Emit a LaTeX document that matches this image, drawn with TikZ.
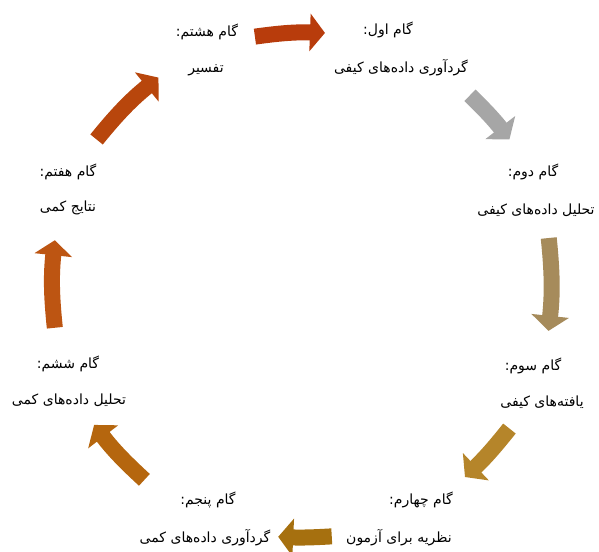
\documentclass[tikz,border=0pt]{standalone}
\usepackage{fontspec}
\usetikzlibrary{arrows.meta}
\newfontfamily\fa[Script=Arabic]{DejaVu Sans}
\TeXXeTstate=1
\definecolor{arrA}{HTML}{B83C0C}
\definecolor{arrB}{HTML}{A6A6A6}
\definecolor{arrC}{HTML}{A68B5B}
\definecolor{arrD}{HTML}{B5852A}
\definecolor{arrE}{HTML}{A6700F}
\definecolor{arrF}{HTML}{B5660E}
\definecolor{arrG}{HTML}{BD5512}
\definecolor{arrH}{HTML}{B8460C}
\tikzset{
  steplabel/.style={font={\fa\fontsize{14}{16}\selectfont}, inner sep=0pt},
  steptext/.style={font={\fa\fontsize{14}{16}\selectfont}, inner sep=0pt},
  blockarr/.style={line width=16pt, -{Triangle[width=37pt,length=15pt]}},
}

\begin{document}
\begin{tikzpicture}[x=1pt,y=1pt]
  \useasboundingbox (-303,-267) rectangle (296,284);
  % Steps
  \node[steplabel] (s1) at (85,254) {\beginR گام اول:\endR};
  \node[steptext] (d1) at (98,216) {\beginR گردآوری داده^^^^200cهای کیفی\endR};
  \node[steplabel] (s2) at (230,112) {\beginR گام دوم:\endR};
  \node[steptext] (d2) at (233,74) {\beginR تحلیل داده^^^^200cهای کیفی\endR};
  \node[steplabel] (s3) at (230,-82) {\beginR گام سوم:\endR};
  \node[steptext] (d3) at (239,-118) {\beginR یافته^^^^200cهای کیفی\endR};
  \node[steplabel] (s4) at (118,-216) {\beginR گام چهارم:\endR};
  \node[steptext] (d4) at (96,-254) {\beginR نظریه برای آزمون\endR};
  \node[steplabel] (s5) at (-95,-216) {\beginR گام پنجم:\endR};
  \node[steptext] (d5) at (-98,-254) {\beginR گردآوری داده^^^^200cهای کمی\endR};
  \node[steplabel] (s6) at (-235,-80) {\beginR گام ششم:\endR};
  \node[steptext] (d6) at (-234,-116) {\beginR تحلیل داده^^^^200cهای کمی\endR};
  \node[steplabel] (s7) at (-235,112) {\beginR گام هفتم:\endR};
  \node[steptext] (d7) at (-235,76) {\beginR نتایج کمی\endR};
  \node[steplabel] (s8) at (-96,252) {\beginR گام هشتم:\endR};
  \node[steptext] (d8) at (-97,214) {\beginR تفسیر\endR};

  % Arrow ends on the circle
  \coordinate (t1) at (101:252pt); \coordinate (h1) at (85:252pt);
  \coordinate (t2) at (48.5:252pt); \coordinate (h2) at (35:252pt);
  \coordinate (t3) at (10.6:250pt); \coordinate (h3) at (-10.8:250pt);
  \coordinate (t4) at (-35:252pt); \coordinate (h4) at (-50:252pt);
  \coordinate (t5) at (-83.5:254pt); \coordinate (h5) at (-95.6:254pt);
  \coordinate (t6) at (-129:252pt); \coordinate (h6) at (-146:252pt);
  \coordinate (t7) at (-170:252pt); \coordinate (h7) at (170:252pt);
  \coordinate (t8) at (145:252pt); \coordinate (h8) at (125:252pt);

  \draw[blockarr, arrA] (t1) to[bend left=5] (h1);
  \draw[blockarr, arrB] (t2) to[bend left=4] (h2);
  \draw[blockarr, arrC] (t3) to[bend left=6] (h3);
  \draw[blockarr, arrD] (t4) to[bend left=4] (h4);
  \draw[blockarr, arrE] (t5) to[bend left=3] (h5);
  \draw[blockarr, arrF] (t6) to[bend left=5] (h6);
  \draw[blockarr, arrG] (t7) to[bend left=6] (h7);
  \draw[blockarr, arrH] (t8) to[bend left=6] (h8);
\end{tikzpicture}
\end{document}
